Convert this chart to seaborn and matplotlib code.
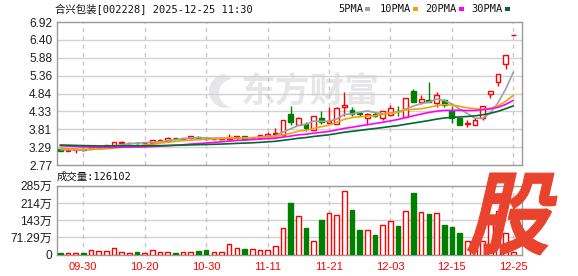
import numpy as np
import pandas as pd
import matplotlib
matplotlib.use("Agg")
import matplotlib.pyplot as plt
import seaborn as sns
from matplotlib.patches import Rectangle, PathPatch, Polygon
from matplotlib.textpath import TextPath
from matplotlib.font_manager import FontProperties
from matplotlib.path import Path

# ---------------- data ----------------
title = "合兴包装[002228] 2025-12-25 11:30"
vol_title = "成交量:126102"

dates = ["09-25", "09-26", "09-29", "09-30",
         "10-09", "10-10", "10-13", "10-14", "10-15", "10-16", "10-17", "10-20",
         "10-21", "10-22", "10-23", "10-24", "10-27", "10-28", "10-29", "10-30",
         "10-31", "11-03", "11-04", "11-05", "11-06", "11-07", "11-10", "11-11",
         "11-12", "11-13", "11-14", "11-17", "11-18", "11-19", "11-20", "11-21",
         "11-24", "11-25", "11-26", "11-27", "11-28", "12-01", "12-02", "12-03",
         "12-04", "12-05", "12-08", "12-09", "12-10", "12-11", "12-12", "12-15",
         "12-16", "12-17", "12-18", "12-19", "12-22", "12-23", "12-24", "12-25"]

open_ = [3.23, 3.19, 3.20, 3.23, 3.24, 3.26, 3.28, 3.35, 3.41, 3.41, 3.42, 3.40, 3.42, 3.47, 3.48, 3.55, 3.53, 3.54, 3.59, 3.55,
         3.52, 3.52, 3.52, 3.54, 3.61, 3.54, 3.56, 3.62, 3.66, 3.63,
         4.26, 3.93, 3.97, 3.80, 4.14, 3.98, 3.97, 4.45, 4.36, 4.28,
         4.12, 4.26, 4.12, 4.21, 4.35, 4.16, 4.93, 4.59, 4.67, 4.58,
         4.65, 4.33, 4.12, 3.97, 3.94, 4.12, 4.82, 5.17, 5.70, 6.55]
close = [3.18, 3.20, 3.21, 3.21, 3.30, 3.30, 3.34, 3.44, 3.43, 3.41, 3.40, 3.42, 3.49, 3.51, 3.56, 3.54, 3.55, 3.61, 3.55, 3.52,
         3.53, 3.54, 3.59, 3.61, 3.52, 3.56, 3.63, 3.67, 3.70, 4.07,
         4.02, 4.13, 3.83, 4.18, 4.02, 4.05, 4.43, 4.52, 4.24, 4.25,
         4.26, 4.19, 4.33, 4.42, 4.33, 4.72, 4.61, 4.69, 4.61, 4.79,
         4.50, 4.13, 3.94, 3.98, 4.09, 4.47, 4.92, 5.41, 5.95, 6.55]
high = [3.24, 3.22, 3.25, 3.25, 3.31, 3.31, 3.36, 3.45, 3.46, 3.44, 3.43, 3.44, 3.50, 3.53, 3.57, 3.56, 3.56, 3.62, 3.60, 3.56,
        3.55, 3.55, 3.68, 3.62, 3.62, 3.57, 3.64, 3.73, 3.83, 4.07,
        4.48, 4.15, 4.03, 4.19, 4.33, 4.45, 4.44, 4.88, 4.45, 4.30,
        4.27, 4.30, 4.35, 4.50, 4.48, 4.72, 4.99, 4.80, 5.17, 4.88,
        4.69, 4.47, 4.13, 4.07, 4.12, 4.49, 4.93, 5.41, 5.96, 6.55]
low = [3.17, 3.17, 3.12, 3.19, 3.22, 3.25, 3.27, 3.34, 3.39, 3.38, 3.38, 3.39, 3.41, 3.46, 3.47, 3.49, 3.51, 3.53, 3.54, 3.50,
       3.51, 3.50, 3.50, 3.53, 3.51, 3.52, 3.55, 3.61, 3.59, 3.62,
       3.92, 3.92, 3.75, 3.78, 3.97, 3.95, 3.96, 4.20, 4.19, 4.18,
       3.94, 4.17, 4.09, 4.19, 4.19, 4.15, 4.59, 4.55, 4.61, 4.45,
       4.45, 3.98, 3.92, 3.86, 3.92, 4.09, 4.71, 5.06, 5.57, 6.55]
# volume, in 万
volume = [7.5, 7.5, 7.5, 7.5, 18.7, 14.5, 16, 25.7, 10.4, 7.5, 12, 7.5, 18.7, 10.4, 10.4, 7.5, 10.4, 10.4, 16, 18.7,
          10.4, 10.4, 43.5, 25.7, 22.8, 22.8, 18.7, 18.7, 35, 108.7,
          213, 160, 109, 56, 143, 171, 163, 262, 185, 102,
          104, 81, 122, 138, 118, 179, 255, 175, 169, 171,
          122, 114, 90, 56, 70, 57, 154, 180, 88, 12.6]
# closes before the visible window (estimated from where the MA lines start)
prior_close = [3.36, 3.38, 3.40, 3.42, 3.41, 3.39, 3.40, 3.38, 3.37, 3.39,
               3.42, 3.44, 3.43, 3.41, 3.40, 3.42, 3.39, 3.38, 3.36, 3.35,
               3.33, 3.31, 3.30, 3.28, 3.28, 3.25, 3.24, 3.22, 3.21]

ma_periods = [5, 10, 20, 30]
ma_names = ["5PMA", "10PMA", "20PMA", "30PMA"]
ma_colors = ["#a0a0a0", "#f0a30a", "#ff00ff", "#00692d"]

price_tick_labels = ["2.77", "3.29", "3.81", "4.33", "4.84", "5.36", "5.88", "6.40", "6.92"]
price_min, price_max = 2.77, 6.92
vol_tick_values = [0, 71.29, 142.58, 213.87, 285.16]
vol_tick_labels = ["0", "71.29万", "143万", "214万", "285万"]
x_tick_labels = ["09-30", "10-20", "10-30", "11-11", "11-21", "12-03", "12-15", "12-25"]

RED = "#ff0000"
GREEN = "#008000"
WM = "#e6e6e8"

# ---------------- style ----------------
sns.set_style("white")
plt.rcParams["font.family"] = ["Liberation Sans", "Noto Sans CJK SC", "DejaVu Sans"]

W, H = 578, 276
fig = plt.figure(figsize=(W / 100, H / 100), dpi=100)
fig.patch.set_facecolor("white")

L, R = 57, 522.3
ax = fig.add_axes([L / W, 1 - 165 / H, (R - L) / W, (165 - 22) / H])
axv = fig.add_axes([L / W, 1 - 254.7 / H, (R - L) / W, (254.7 - 185.7) / H])

o = np.array(open_); c = np.array(close); hi = np.array(high); lo = np.array(low)
v = np.array(volume)
x = np.arange(len(c))
up = c >= o
edge = np.where(up, RED, GREEN)
face = np.where(up, "white", GREEN)

xlim = (-0.42, 60.17)
tick_pos = [dates.index(d) for d in x_tick_labels]

# ---- price panel ----
price_ticks = np.linspace(price_min, price_max, len(price_tick_labels))
for t in price_ticks[1:-1]:
    ax.axhline(t, color="#d2d2d2", lw=1.0, zorder=1)
for p in tick_pos:
    ax.axvline(p, color="#c8c8c8", lw=1.0, ls=(0, (3, 3)), zorder=1)

# watermark (logo swoosh + text)
th = np.radians(np.linspace(95, 265, 40))
outer = np.column_stack([226 + 17 * np.cos(th), (H - 91) + 17 * np.sin(th)])
inner = np.column_stack([233 + 14 * np.cos(th[::-1]), (H - 93) + 14 * np.sin(th[::-1])])
crescent = np.vstack([outer, inner]) / 100.0
ax.add_patch(Polygon(crescent, closed=True, transform=fig.dpi_scale_trans,
                     facecolor=WM, edgecolor="none", zorder=0.5))
ax.text(0.545, 0.515, "东方财富", transform=ax.transAxes, ha="center", va="center",
        fontsize=25, fontweight="bold", color=WM, family=["Noto Sans CJK SC"], zorder=0.5)

ax.vlines(x, lo, hi, colors=edge, lw=1.0, zorder=3)
ax.bar(x, np.abs(c - o), bottom=np.minimum(o, c), width=0.62, color=face,
       edgecolor=edge, linewidth=1.0, zorder=4)

full = pd.Series(prior_close + close)
n_prior = len(prior_close)
for per, name, col in zip(ma_periods, ma_names, ma_colors):
    ma = full.rolling(per).mean().iloc[n_prior:].to_numpy()
    sns.lineplot(x=x, y=ma, ax=ax, color=col, lw=1.2, zorder=5, legend=False)

ax.set_xlim(*xlim)
ax.set_ylim(price_min, price_max)
ax.set_yticks(price_ticks)
ax.set_yticklabels(price_tick_labels)
ax.set_xticks([])
ax.tick_params(axis="y", length=0, pad=3.5, labelsize=8.6, labelcolor="#1e1e2a")
for s in ax.spines.values():
    s.set_color("#9a9a9a")
    s.set_linewidth(1.0)
ax.set_facecolor("white")

# ---- volume panel ----
for t in vol_tick_values[1:-1]:
    axv.axhline(t, color="#d2d2d2", lw=1.0, zorder=1)
for p in tick_pos:
    axv.axvline(p, color="#c8c8c8", lw=1.0, ls=(0, (3, 3)), zorder=1)
axv.bar(x, v, width=0.6, color=face, edgecolor=edge, linewidth=1.0, zorder=3)
axv.set_xlim(*xlim)
axv.set_ylim(0, vol_tick_values[-1])
axv.set_yticks(vol_tick_values)
axv.set_yticklabels(vol_tick_labels)
axv.set_xticks(tick_pos)
axv.set_xticklabels(x_tick_labels)
axv.tick_params(axis="y", length=0, pad=3.5, labelsize=8.6, labelcolor="#1e1e2a")
axv.tick_params(axis="x", length=0, pad=5.5, labelsize=8, labelcolor=RED)
for s in axv.spines.values():
    s.set_color("#9a9a9a")
    s.set_linewidth(1.0)

# ---- header texts ----
mono = ["DejaVu Sans Mono", "Noto Sans CJK SC"]
fig.text(55 / W, 1 - 9.5 / H, title, ha="left", va="center", fontsize=7.5, family=mono, color="#111111")
fig.text(57 / W, 1 - 176.5 / H, vol_title, ha="left", va="center", fontsize=7.5, family=mono, color="#111111")

leg_text_x = [338, 380, 425, 471]
leg_sq_x = [365, 413, 459, 505]
for name, col, tx, sx in zip(ma_names, ma_colors, leg_text_x, leg_sq_x):
    fig.text(tx / W, 1 - 9.5 / H, name, ha="left", va="center", fontsize=7.5, family=mono, color="#111111")
    fig.add_artist(Rectangle((sx / W, 1 - 10.5 / H), 5 / W, 3 / H, transform=fig.transFigure,
                             facecolor=col, edgecolor="none"))

# ---- big red "股" badge ----
fp = FontProperties(family="Noto Sans CJK SC", weight="bold")
tp = TextPath((0, 0), "股", size=1, prop=fp)
verts = tp.vertices.copy()
verts[:, 0] = verts[:, 0] + np.tan(np.radians(14)) * verts[:, 1]
x0, x1 = verts[:, 0].min(), verts[:, 0].max()
y0, y1 = verts[:, 1].min(), verts[:, 1].max()
tx0, tx1, ty0, ty1 = 466, 557, H - 255, H - 173
verts[:, 0] = tx0 + (verts[:, 0] - x0) / (x1 - x0) * (tx1 - tx0)
verts[:, 1] = ty0 + (verts[:, 1] - y0) / (y1 - y0) * (ty1 - ty0)
verts = verts / 100.0
glyph = Path(verts, tp.codes)
fig.add_artist(PathPatch(glyph, transform=fig.dpi_scale_trans, facecolor="#e9432e",
                         edgecolor="#e9432e", lw=0.8, zorder=10))

fig.savefig("out.png", dpi=100, facecolor="white")
